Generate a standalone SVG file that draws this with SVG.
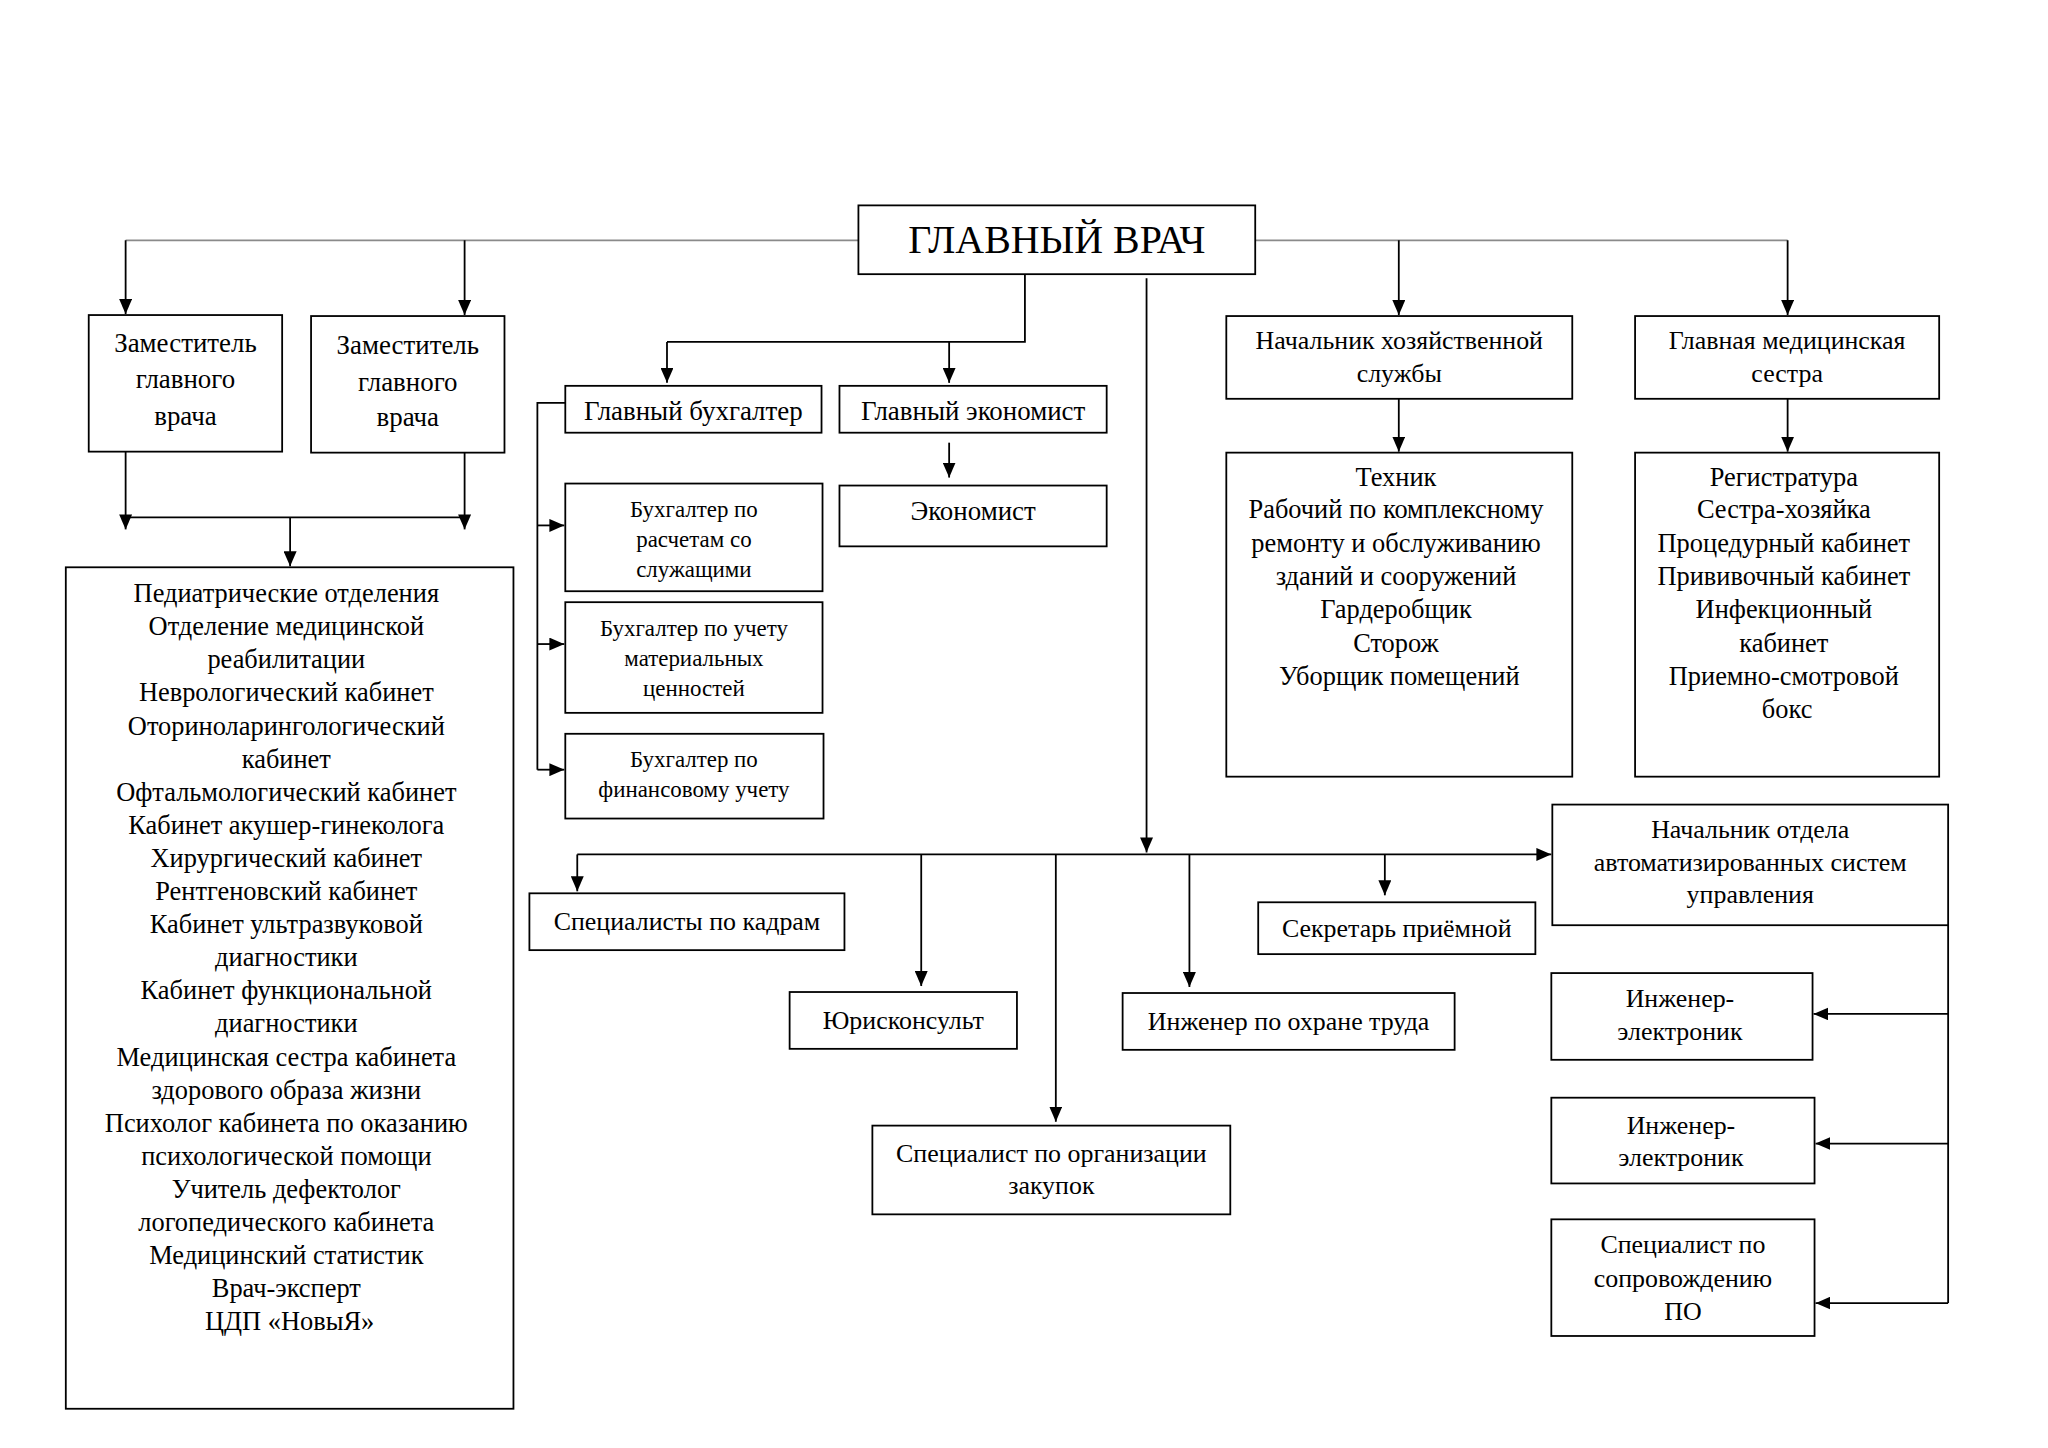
<svg xmlns="http://www.w3.org/2000/svg" width="2048" height="1448" viewBox="0 0 2048 1448">
<defs>
<marker id="ah" viewBox="0 0 15 13" refX="15" refY="6.5" markerWidth="15" markerHeight="13" orient="auto" markerUnits="userSpaceOnUse"><path d="M0,0 L15,6.5 L0,13 z" fill="#000"/></marker>
<style>
rect{fill:#fff;stroke:#000;stroke-width:1.8}
text{font-family:"Liberation Serif","Times New Roman",serif;fill:#000;text-anchor:middle}
.c{fill:none;stroke:#000;stroke-width:1.8}
.a{fill:none;stroke:#000;stroke-width:1.8;marker-end:url(#ah)}
.g{fill:none;stroke:#8a8a8a;stroke-width:1.8}
.f27{font-size:27px}.f26{font-size:26px}.f23{font-size:23px}.f265{font-size:26.5px}
</style>
</defs>
<rect x="0" y="0" width="2048" height="1448" style="fill:#fff;stroke:none"/>
<g transform="scale(0.997)">
<g id="connectors">
<path class="g" d="M126,241 H861 M1259,241 H1793"/>
<path class="a" d="M126,241 V315"/>
<path class="a" d="M466,241 V316"/>
<path class="a" d="M1403,241 V316"/>
<path class="a" d="M1793,241 V316"/>
<path class="a" d="M126,453 V531"/>
<path class="a" d="M466,454 V531"/>
<path class="c" d="M126,519 H466"/>
<path class="a" d="M291,519 V568"/>
<path class="c" d="M1028,275 V343 H669"/>
<path class="a" d="M669,343 V384"/>
<path class="a" d="M952,343 V384"/>
<path class="a" d="M952,444 V479"/>
<path class="c" d="M567,404 H539 V772"/>
<path class="a" d="M539,527 H566"/>
<path class="a" d="M539,646 H566"/>
<path class="a" d="M539,772 H566"/>
<path class="a" d="M1403,400 V453"/>
<path class="a" d="M1793,400 V453"/>
<path class="a" d="M1150,279 V855"/>
<path class="a" d="M579,857 H1556"/>
<path class="a" d="M579,857 V894"/>
<path class="a" d="M924,857 V989"/>
<path class="a" d="M1059,857 V1125"/>
<path class="a" d="M1193,857 V990"/>
<path class="a" d="M1389,857 V898"/>
<path class="c" d="M1954,928 V1307"/>
<path class="a" d="M1954,1017 H1819"/>
<path class="a" d="M1954,1147 H1821"/>
<path class="a" d="M1954,1307 H1821"/>
</g>
<g id="n-gv"><rect x="861" y="206" width="398" height="69"/><text x="1060" y="254" style="font-size:40px">ГЛАВНЫЙ ВРАЧ</text></g>
<g id="n-dep1"><rect x="89" y="316" width="194" height="137"/><text class="f27"><tspan x="186" y="353">Заместитель</tspan><tspan x="186" y="389">главного</tspan><tspan x="186" y="426">врача</tspan></text></g>
<g id="n-dep2"><rect x="312" y="317" width="194" height="137"/><text class="f27"><tspan x="409" y="355">Заместитель</tspan><tspan x="409" y="392">главного</tspan><tspan x="409" y="427">врача</tspan></text></g>
<g id="n-pedi"><rect x="66" y="569" width="449" height="844"/><text class="f265">
<tspan x="290.5" y="604">Педиатрические отделения</tspan>
<tspan x="290.5" y="637.2">Отделение медицинской</tspan>
<tspan x="290.5" y="670.4">реабилитации</tspan>
<tspan x="290.5" y="703.6">Неврологический кабинет</tspan>
<tspan x="290.5" y="736.8">Оториноларингологический</tspan>
<tspan x="290.5" y="770">кабинет</tspan>
<tspan x="290.5" y="803.2">Офтальмологический кабинет</tspan>
<tspan x="290.5" y="836.4">Кабинет акушер-гинеколога</tspan>
<tspan x="290.5" y="869.6">Хирургический кабинет</tspan>
<tspan x="290.5" y="902.8">Рентгеновский кабинет</tspan>
<tspan x="290.5" y="936">Кабинет ультразвуковой</tspan>
<tspan x="290.5" y="969.2">диагностики</tspan>
<tspan x="290.5" y="1002.4">Кабинет функциональной</tspan>
<tspan x="290.5" y="1035.6">диагностики</tspan>
<tspan x="290.5" y="1068.8">Медицинская сестра кабинета</tspan>
<tspan x="290.5" y="1102">здорового образа жизни</tspan>
<tspan x="290.5" y="1135.2">Психолог кабинета по оказанию</tspan>
<tspan x="290.5" y="1168.4">психологической помощи</tspan>
<tspan x="290.5" y="1201.6">Учитель дефектолог</tspan>
<tspan x="290.5" y="1234.8">логопедического кабинета</tspan>
<tspan x="290.5" y="1268">Медицинский статистик</tspan>
<tspan x="290.5" y="1301.2">Врач-эксперт</tspan>
<tspan x="290.5" y="1334.4">ЦДП «НовыЯ»</tspan>
</text></g>
<g id="n-gb"><rect x="567" y="387" width="257" height="47"/><text class="f27" x="695.5" y="421">Главный бухгалтер</text></g>
<g id="n-ge"><rect x="842" y="387" width="268" height="47"/><text class="f27" x="976" y="421">Главный экономист</text></g>
<g id="n-econ"><rect x="842" y="487" width="268" height="61"/><text class="f27" x="976" y="522">Экономист</text></g>
<g id="n-b1"><rect x="567" y="485" width="258" height="108"/><text class="f23"><tspan x="696" y="519">Бухгалтер по</tspan><tspan x="696" y="549">расчетам со</tspan><tspan x="696" y="579">служащими</tspan></text></g>
<g id="n-b2"><rect x="567" y="604" width="258" height="111"/><text class="f23"><tspan x="696" y="638">Бухгалтер по учету</tspan><tspan x="696" y="668">материальных</tspan><tspan x="696" y="698">ценностей</tspan></text></g>
<g id="n-b3"><rect x="567" y="736" width="259" height="85"/><text class="f23"><tspan x="696" y="769">Бухгалтер по</tspan><tspan x="696" y="799">финансовому учету</tspan></text></g>
<g id="n-nh"><rect x="1230" y="317" width="347" height="83"/><text class="f26"><tspan x="1403.5" y="350">Начальник хозяйственной</tspan><tspan x="1403.5" y="383">службы</tspan></text></g>
<g id="n-tech"><rect x="1230" y="454" width="347" height="325"/><text class="f265">
<tspan x="1403.5" y="487">Техник</tspan>
<tspan x="1403.5" y="520">Рабочий по комплексному</tspan>
<tspan x="1403.5" y="554">ремонту и обслуживанию</tspan>
<tspan x="1403.5" y="587">зданий и сооружений</tspan>
<tspan x="1403.5" y="620">Гардеробщик</tspan>
<tspan x="1403.5" y="654">Сторож</tspan>
<tspan x="1403.5" y="687">Уборщик помещений</tspan>
</text></g>
<g id="n-gms"><rect x="1640" y="317" width="305" height="83"/><text class="f26"><tspan x="1792.5" y="350">Главная медицинская</tspan><tspan x="1792.5" y="383">сестра</tspan></text></g>
<g id="n-reg"><rect x="1640" y="454" width="305" height="325"/><text class="f265">
<tspan x="1792.5" y="487">Регистратура</tspan>
<tspan x="1792.5" y="520">Сестра-хозяйка</tspan>
<tspan x="1792.5" y="554">Процедурный кабинет</tspan>
<tspan x="1792.5" y="587">Прививочный кабинет</tspan>
<tspan x="1792.5" y="620">Инфекционный</tspan>
<tspan x="1792.5" y="654">кабинет</tspan>
<tspan x="1792.5" y="687">Приемно-смотровой</tspan>
<tspan x="1792.5" y="720">бокс</tspan>
</text></g>
<g id="n-kad"><rect x="531" y="896" width="316" height="57"/><text class="f26" x="689" y="933">Специалисты по кадрам</text></g>
<g id="n-jur"><rect x="792" y="995" width="228" height="57"/><text class="f26" x="906" y="1032">Юрисконсульт</text></g>
<g id="n-zak"><rect x="875" y="1129" width="359" height="89"/><text class="f26"><tspan x="1054.5" y="1165">Специалист по организации</tspan><tspan x="1054.5" y="1198">закупок</tspan></text></g>
<g id="n-ohr"><rect x="1126" y="996" width="333" height="57"/><text class="f26" x="1292.5" y="1033">Инженер по охране труда</text></g>
<g id="n-sec"><rect x="1262" y="905" width="278" height="52"/><text class="f26" x="1401" y="940">Секретарь приёмной</text></g>
<g id="n-asu"><rect x="1557" y="807" width="397" height="121"/><text class="f26"><tspan x="1755.5" y="841">Начальник отдела</tspan><tspan x="1755.5" y="874">автоматизированных систем</tspan><tspan x="1755.5" y="906">управления</tspan></text></g>
<g id="n-ie1"><rect x="1556" y="976" width="262" height="87"/><text class="f26"><tspan x="1685" y="1010">Инженер-</tspan><tspan x="1685" y="1043">электроник</tspan></text></g>
<g id="n-ie2"><rect x="1556" y="1101" width="264" height="86"/><text class="f26"><tspan x="1686" y="1137">Инженер-</tspan><tspan x="1686" y="1170">электроник</tspan></text></g>
<g id="n-po"><rect x="1556" y="1223" width="264" height="117"/><text class="f26"><tspan x="1688" y="1257">Специалист по</tspan><tspan x="1688" y="1291">сопровождению</tspan><tspan x="1688" y="1324">ПО</tspan></text></g>
</g>
</svg>
